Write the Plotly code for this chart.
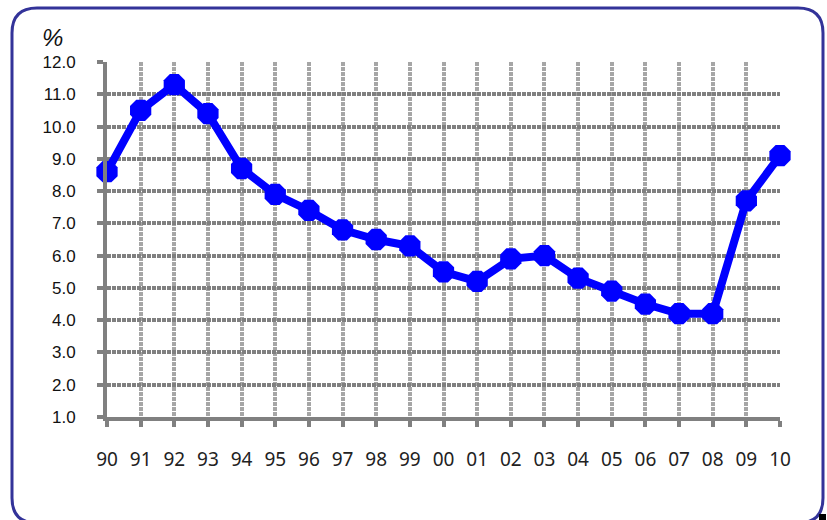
import plotly.graph_objects as go

years = ["90", "91", "92", "93", "94", "95", "96", "97", "98", "99",
         "00", "01", "02", "03", "04", "05", "06", "07", "08", "09", "10"]
rates = [8.6, 10.5, 11.3, 10.4, 8.7, 7.9, 7.4, 6.8, 6.5, 6.3,
         5.5, 5.2, 5.9, 6.0, 5.3, 4.9, 4.5, 4.2, 4.2, 7.7, 9.1]
y_ticks = [1, 2, 3, 4, 5, 6, 7, 8, 9, 10, 11, 12]
y_labels = ["%.1f" % v for v in y_ticks]

W, H = 827, 520
L, R, T, B = 107, 47, 62, 103
PW, PH = W - L - R, H - T - B

def px(x):
    return (x - L) / PW

def py(y):
    return (H - B - y) / PH

xs = list(range(len(years)))

fig = go.Figure()
fig.add_trace(go.Scatter(
    x=xs, y=rates, mode="lines+markers",
    line=dict(color="#0000ff", width=8),
    marker=dict(symbol="octagon", size=23, color="#0000ff"),
    hoverinfo="skip", showlegend=False, cliponaxis=False,
))

# rounded border path (pixel coords converted to paper)
x0, x1, y0, y1, r = 12, 823, 8, 523, 25
def P(x, y):
    return "%.5f,%.5f" % (px(x), py(y))
path = ("M " + P(x0, y0 + r) + " Q " + P(x0, y0) + " " + P(x0 + r, y0) +
        " L " + P(x1 - r, y0) + " Q " + P(x1, y0) + " " + P(x1, y0 + r) +
        " L " + P(x1, y1 - r) + " Q " + P(x1, y1) + " " + P(x1 - r, y1) +
        " L " + P(x0 + r, y1) + " Q " + P(x0, y1) + " " + P(x0, y1 - r) + " Z")

shapes = [
    dict(type="path", xref="paper", yref="paper", path=path,
         line=dict(color="#333399", width=3), fillcolor="rgba(0,0,0,0)", layer="above"),
    dict(type="rect", xref="paper", yref="paper",
         x0=px(819), x1=px(826), y0=py(520), y1=py(514),
         line=dict(width=0), fillcolor="#000000"),
]

fig.update_layout(
    width=W, height=H,
    margin=dict(l=L, r=R, t=T, b=B, pad=0),
    paper_bgcolor="white", plot_bgcolor="white",
    shapes=shapes,
    annotations=[dict(text="<i>%</i>", xref="paper", yref="paper",
                      x=px(53), y=py(37), xanchor="center", yanchor="middle",
                      showarrow=False,
                      font=dict(family="Liberation Sans, Arial", size=24, color="#111111"))],
    xaxis=dict(
        range=[0, len(years) - 1], tickvals=xs, ticktext=years,
        showgrid=True, gridcolor="#a6a6a6", gridwidth=4, griddash="4px,1px",
        showline=True, linecolor="#808080", linewidth=4,
        ticks="outside", ticklen=6, tickwidth=4, tickcolor="#808080",
        ticklabelstandoff=16, zeroline=False,
        tickfont=dict(family="Noto Sans, Open Sans", size=19, color="#222222"),
    ),
    yaxis=dict(
        range=[1, 12], tickvals=y_ticks, ticktext=y_labels,
        showgrid=True, gridcolor="#808080", gridwidth=4, griddash="4px,1px",
        showline=True, linecolor="#808080", linewidth=4,
        ticks="outside", ticklen=6, tickwidth=4, tickcolor="#808080",
        ticklabelstandoff=18, zeroline=False,
        tickfont=dict(family="Liberation Sans, Arial", size=17, color="#111111"),
    ),
)

fig.write_html(
    "out.html",
    config={"displayModeBar": False, "staticPlot": True},
    post_script="document.body.style.margin='0';document.body.style.overflow='hidden';",
)
